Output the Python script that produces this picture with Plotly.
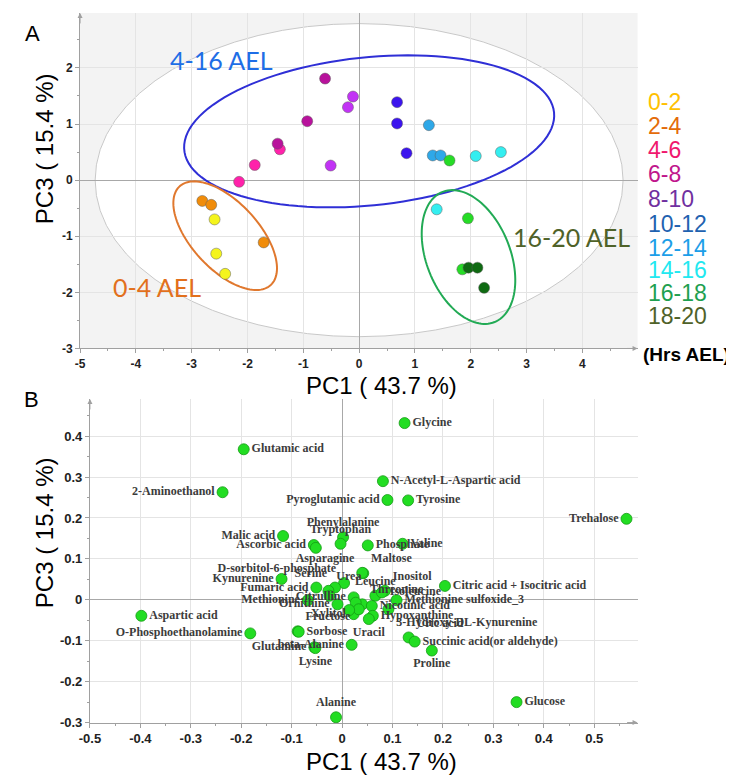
import numpy as np
import plotly.graph_objects as go

# ---------------- Panel A data (PCA scores) ----------------
groups = ["0-2", "2-4", "4-6", "6-8", "8-10", "10-12", "12-14", "14-16", "16-18", "18-20"]
pc1_scores = [
    [-2.59, -2.56, -2.40],
    [-2.81, -2.65, -1.71],
    [-2.15, -1.87, -1.42],
    [-1.46, -0.93, -0.61],
    [-0.11, -0.20, -0.51],
    [0.68, 0.68, 0.85],
    [1.25, 1.32, 1.46],
    [2.09, 2.54, 1.39],
    [1.62, 1.95, 1.85],
    [1.96, 2.12, 2.24],
]
pc3_scores = [
    [-0.70, -1.31, -1.67],
    [-0.37, -0.44, -1.11],
    [-0.03, 0.27, 0.55],
    [0.65, 1.05, 1.81],
    [1.49, 1.30, 0.26],
    [1.39, 1.01, 0.48],
    [0.98, 0.44, 0.44],
    [0.43, 0.50, -0.52],
    [0.35, -0.68, -1.59],
    [-1.56, -1.56, -1.92],
]
point_colors = ["#f4f41c", "#f08c0a", "#ff22aa", "#b8129c", "#c233f5",
                "#3c14ee", "#2ea8e8", "#34eef0", "#26dc26", "#0f6a12"]
legend_colors = ["#ffc000", "#e46c0a", "#f0186e", "#c0168c", "#7030a0",
                 "#1f62b0", "#1c9ee8", "#22e8f0", "#1ea050", "#4f6228"]
a_xticks = [-5, -4, -3, -2, -1, 0, 1, 2, 3, 4]
a_yticks = [-3, -2, -1, 0, 1, 2]

# ---------------- Panel B data (PCA loadings) ----------------
metabolites = [
    "Glycine", "Glutamic acid", "N-Acetyl-L-Aspartic acid", "2-Aminoethanol",
    "Pyroglutamic acid", "Tyrosine", "Trehalose", "Phenylalanine", "Tryptophan",
    "Malic acid", "Ascorbic acid", "", "Phosphate", "Valine", "Maltose", "Asparagine",
    "D-sorbitol-6-phosphate", "Serine", "Urea", "Kynurenine", "Fumaric acid",
    "Methionine", "Ornithine", "Citrulline", "Inositol", "Leucine", "Isoleucine",
    "Threonine", "Nicotinic acid", "Methionine sulfoxide_3", "3-Hydroxy-DL-Kynurenine",
    "Hypoxanthine", "Uracil", "Xylitol", "", "", "", "",
    "Citric acid + Isocitric acid", "Fructose", "Sorbose", "Glutamine", "Lysine",
    "beta-Alanine", "Uric acid", "Succinic acid(or aldehyde)", "Proline", "Glucose",
    "Alanine", "Aspartic acid", "O-Phosphoethanolamine",
]
pc1_load = [
    0.124, -0.195, 0.081, -0.237,
    0.090, 0.131, 0.564, 0.002, -0.003,
    -0.117, -0.056, -0.052, 0.051, 0.120, 0.042, 0.040,
    0.004, -0.014, -0.027, -0.120, -0.051,
    -0.068, -0.009, 0.023, 0.085, 0.066, 0.079,
    0.040, 0.059, 0.108, 0.092,
    0.061, 0.053, 0.023, 0.027, 0.033, 0.014, -0.025,
    0.204, -0.088, -0.086, -0.055, -0.053,
    0.019, 0.132, 0.144, 0.178, 0.346,
    -0.012, -0.398, -0.182,
]
pc3_load = [
    0.432, 0.368, 0.290, 0.263,
    0.244, 0.243, 0.198, 0.153, 0.137,
    0.156, 0.134, 0.127, 0.133, 0.137, 0.065, 0.066,
    0.041, 0.030, 0.022, 0.051, 0.030,
    -0.001, -0.011, 0.006, 0.022, 0.010, 0.018,
    -0.011, -0.015, -0.001, -0.023,
    -0.039, -0.047, -0.035, -0.007, -0.023, -0.025, 0.010,
    0.034, -0.077, -0.078, -0.116, -0.118,
    -0.110, -0.092, -0.102, -0.124, -0.250,
    -0.287, -0.039, -0.082,
]
label_pos = [
    "middle right", "middle right", "middle right", "middle left",
    "middle left", "middle right", "middle left", "top center", "top center",
    "middle left", "middle left", "middle left", "middle right", "middle right", "top right", "top left",
    "top left", "top left", "top right", "middle left", "middle left",
    "middle left", "middle left", "middle left", "top right", "top center", "middle right",
    "top right", "middle right", "middle right", "bottom right",
    "middle right", "bottom center", "middle left", "middle left", "middle left", "middle left", "middle left",
    "middle right", "top right", "middle right", "middle left", "bottom center",
    "middle left", "top right", "middle right", "bottom center", "middle right",
    "top center", "middle right", "middle left",
]
b_xticks = [-0.5, -0.4, -0.3, -0.2, -0.1, 0, 0.1, 0.2, 0.3, 0.4, 0.5]
b_yticks = [-0.3, -0.2, -0.1, 0, 0.1, 0.2, 0.3, 0.4]

W, H = 734, 778


def ellipse_path(cx, cy, a, b, ang_deg, n=120):
    t = np.linspace(0, 2 * np.pi, n)
    th = np.radians(ang_deg)
    xs = cx + a * np.cos(t) * np.cos(th) - b * np.sin(t) * np.sin(th)
    ys = cy + a * np.cos(t) * np.sin(th) + b * np.sin(t) * np.cos(th)
    pts = [f"{x:.4f},{y:.4f}" for x, y in zip(xs, ys)]
    return "M " + " L ".join(pts) + " Z"


def bold_labels(vals):
    return [f"<b>{v:g}</b>" for v in vals]


fig = go.Figure()

for g, xs, ys, c in zip(groups, pc1_scores, pc3_scores, point_colors):
    fig.add_trace(go.Scatter(
        x=xs, y=ys, mode="markers", name=g, xaxis="x", yaxis="y",
        marker=dict(size=11, color=c, line=dict(color="rgba(90,90,90,0.6)", width=0.8)),
        showlegend=False,
    ))

fig.add_trace(go.Scatter(
    x=pc1_load, y=pc3_load, mode="markers+text", text=metabolites,
    textposition=label_pos, xaxis="x2", yaxis="y2", showlegend=False,
    marker=dict(size=11, color="#22dd22", line=dict(color="#159a15", width=0.8)),
    textfont=dict(family="Liberation Serif", size=12, color="#3c3c3c", weight="bold"),
    cliponaxis=False,
))

axis_common = dict(
    showgrid=True, gridcolor="#e4e4e4", gridwidth=1,
    zeroline=True, zerolinecolor="#a8a8a8", zerolinewidth=1,
    showline=True, linecolor="#a0a0a0", linewidth=1,
    ticks="outside", ticklen=4, tickcolor="#a0a0a0",
)
font_a = dict(family="Liberation Sans", size=12, color="#222222")
font_b = dict(family="Liberation Sans", size=13, color="#222222")

fig.update_layout(
    width=W, height=H,
    margin=dict(l=0, r=0, t=0, b=0),
    paper_bgcolor="white",
    plot_bgcolor="white",
    xaxis=dict(domain=[62 / W, 628 / W], range=[-5, 4.99], anchor="y",
               tickvals=a_xticks, ticktext=bold_labels(a_xticks), tickfont=font_a,
               minor=dict(dtick=0.5, ticks="outside", ticklen=2, tickcolor="#a0a0a0", showgrid=False),
               **axis_common),
    yaxis=dict(domain=[1 - 344 / H, 1 - 5 / H], range=[-3, 2.98], anchor="x",
               tickvals=a_yticks, ticktext=bold_labels(a_yticks), tickfont=font_a,
               minor=dict(dtick=0.5, ticks="outside", ticklen=2, tickcolor="#a0a0a0", showgrid=False),
               **axis_common),
    xaxis2=dict(domain=[72 / W, 628 / W], range=[-0.5, 0.586], anchor="y2",
                tickvals=b_xticks, ticktext=bold_labels(b_xticks), tickfont=font_b,
                minor=dict(dtick=0.05, ticks="outside", ticklen=2, tickcolor="#a0a0a0", showgrid=False),
                **axis_common),
    yaxis2=dict(domain=[1 - 722 / H, 1 - 395 / H], range=[-0.3, 0.491], anchor="x2",
                tickvals=b_yticks, ticktext=bold_labels(b_yticks), tickfont=font_b,
                minor=dict(dtick=0.05, ticks="outside", ticklen=2, tickcolor="#a0a0a0", showgrid=False),
                **axis_common),
)

shapes = [
    dict(type="rect", xref="x domain", yref="y domain", x0=0, x1=1, y0=0, y1=1,
         fillcolor="#f3f3f3", line=dict(width=0), layer="below"),
    dict(type="circle", xref="x", yref="y", x0=-4.73, x1=4.73, y0=-2.79, y1=2.79,
         fillcolor="white", line=dict(color="#c8c8c8", width=1), layer="below"),
    dict(type="path", xref="x", yref="y", path=ellipse_path(0.18, 0.87, 3.33, 1.32, 5.8),
         line=dict(color="#2f2fd6", width=2), layer="between"),
    dict(type="path", xref="x", yref="y", path=ellipse_path(-2.40, -0.99, 1.2, 0.6, -47),
         line=dict(color="#e0782e", width=2), layer="between"),
    dict(type="path", xref="x", yref="y", path=ellipse_path(1.96, -1.37, 1.25, 0.75, -68),
         line=dict(color="#22aa55", width=2), layer="between"),
]
fig.update_layout(shapes=shapes)

ann = []
ann.append(dict(x=-2.46, y=2.14, xref="x", yref="y", text="4-16 AEL", showarrow=False,
                xanchor="center", yanchor="middle",
                font=dict(family="Lato", size=25, color="#1e6ee6")))
ann.append(dict(x=-3.63, y=-1.91, xref="x", yref="y", text="0-4 AEL", showarrow=False,
                xanchor="center", yanchor="middle",
                font=dict(family="Lato", size=25, color="#e2701c")))
ann.append(dict(x=3.81, y=-1.02, xref="x", yref="y", text="16-20 AEL", showarrow=False,
                xanchor="center", yanchor="middle",
                font=dict(family="Lato", size=25, color="#4f6228")))

leg_y = [95, 119, 143, 168, 193, 218, 242, 265, 288, 311]
for g, c, py in zip(groups, legend_colors, leg_y):
    ann.append(dict(x=637 / W, y=1 - py / H, xref="paper", yref="paper", text=g,
                    showarrow=False, xanchor="left", yanchor="middle",
                    font=dict(family="Liberation Sans", size=23, color=c)))
ann.append(dict(x=632 / W, y=1 - 350 / H, xref="paper", yref="paper", text="(Hrs AEL)",
                showarrow=False, xanchor="left", yanchor="middle", borderpad=0,
                font=dict(family="Liberation Sans", size=19, color="black", weight="bold")))

for py in (381, 761):
    ann.append(dict(x=368 / W, y=1 - py / H, xref="paper", yref="paper", text="PC1 ( 43.7 %)",
                    showarrow=False, xanchor="center", yanchor="middle",
                    font=dict(family="Liberation Sans", size=24, color="black")))
for py in (142, 530):
    ann.append(dict(x=26 / W, y=1 - py / H, xref="paper", yref="paper", text="PC3 ( 15.4 %)",
                    showarrow=False, textangle=-90, xanchor="center", yanchor="middle",
                    font=dict(family="Liberation Sans", size=24, color="black")))

ann.append(dict(x=14 / W, y=1 - 26 / H, xref="paper", yref="paper", text="A", showarrow=False,
                xanchor="center", yanchor="middle",
                font=dict(family="Liberation Sans", size=22, color="black")))
ann.append(dict(x=13 / W, y=1 - 396 / H, xref="paper", yref="paper", text="B", showarrow=False,
                xanchor="center", yanchor="middle",
                font=dict(family="Liberation Sans", size=22, color="black")))

for xr, yr in (("x", "y"), ("x2", "y2")):
    ann.append(dict(x=1, y=0, xref=f"{xr} domain", yref=f"{yr} domain", ax=-12, ay=0,
                    showarrow=True, arrowhead=2, arrowsize=1, arrowwidth=1, arrowcolor="#a0a0a0", text=""))
    ann.append(dict(x=0, y=1, xref=f"{xr} domain", yref=f"{yr} domain", ax=0, ay=12,
                    showarrow=True, arrowhead=2, arrowsize=1, arrowwidth=1, arrowcolor="#a0a0a0", text=""))

fig.update_layout(annotations=ann)
fig.write_html("out.html")
